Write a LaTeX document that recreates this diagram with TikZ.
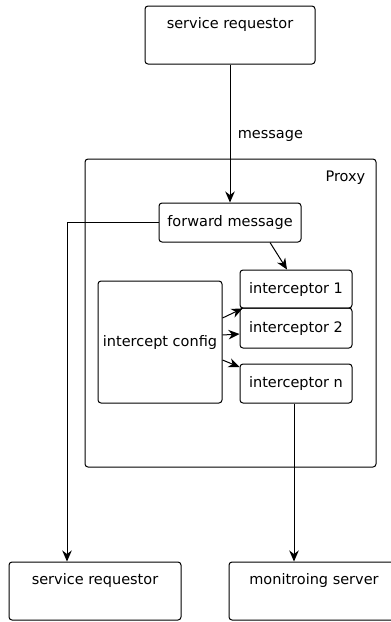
\documentclass[tikz,border=0pt]{standalone}
\usepackage{fontspec}
\setmainfont{DejaVu Sans}
\usetikzlibrary{arrows.meta}
\tikzset{
  box/.style={draw, line width=1pt, rounded corners=3pt, inner sep=0pt, font=\fontsize{14.5}{16}\selectfont},
  toplabel/.style={label={[anchor=base, inner sep=0pt, yshift=-23pt, font=\fontsize{14.5}{16}\selectfont]north:#1}},
  conn/.style={line width=1pt},
  arr/.style={conn, -{Stealth[length=11pt,width=9.5pt,inset=3.5pt]}},
}
\begin{document}
\begin{tikzpicture}[x=1pt,y=-1pt]
\clip (0,0) rectangle (391,622);
\node[box, minimum width=291pt, minimum height=308pt] (proxy) at (230.5,313) {};
\node[anchor=base east, inner sep=0pt, font=\fontsize{14.5}{16}\selectfont] (proxylabel) at ([xshift=-11pt,yshift=-23pt]proxy.north east) {Proxy};
\node[box, minimum width=170pt, minimum height=58pt, toplabel={service requestor}] (top) at (230,35) {};
\node[box, minimum width=142pt, minimum height=39pt] (fwd) at (230,222.5) {forward message};
\node[box, minimum width=112pt, minimum height=38pt] (int1) at (296,289) {interceptor 1};
\node[box, minimum width=112pt, minimum height=40pt] (int2) at (296,328) {interceptor 2};
\node[box, minimum width=112pt, minimum height=39pt] (intn) at (296,383.5) {interceptor n};
\node[box, minimum width=124pt, minimum height=122pt] (cfg) at (160,342) {intercept config};
\node[box, minimum width=172pt, minimum height=58pt, toplabel={service requestor}] (bl) at (95,591) {};
\node[box, minimum width=170pt, minimum height=58pt, toplabel={monitroing server}] (br) at (314,591) {};
\coordinate (c1) at (67,222.5);
\draw[arr] (top.south) -- node[pos=0.52, anchor=west, xshift=4pt, font=\fontsize{14.5}{16}\selectfont] {message} (top.south |- fwd.north);
\draw[arr] (fwd.west) -- (c1) -- (c1 |- bl.north);
\draw[arr] ([xshift=40pt]fwd.south) -- ([xshift=-9pt]int1.north);
\draw[arr] ([yshift=24pt]cfg.east) -- ([xshift=3pt]int1.south west);
\draw[arr] ([yshift=7pt]cfg.east) -- ([yshift=-6pt]int2.west);
\draw[arr] ([yshift=-18pt]cfg.east) -- ([yshift=16.5pt]intn.west);
\draw[arr] ([xshift=-2pt]intn.south) -- ([xshift=-2pt]intn.south |- br.north);
\end{tikzpicture}
\end{document}
